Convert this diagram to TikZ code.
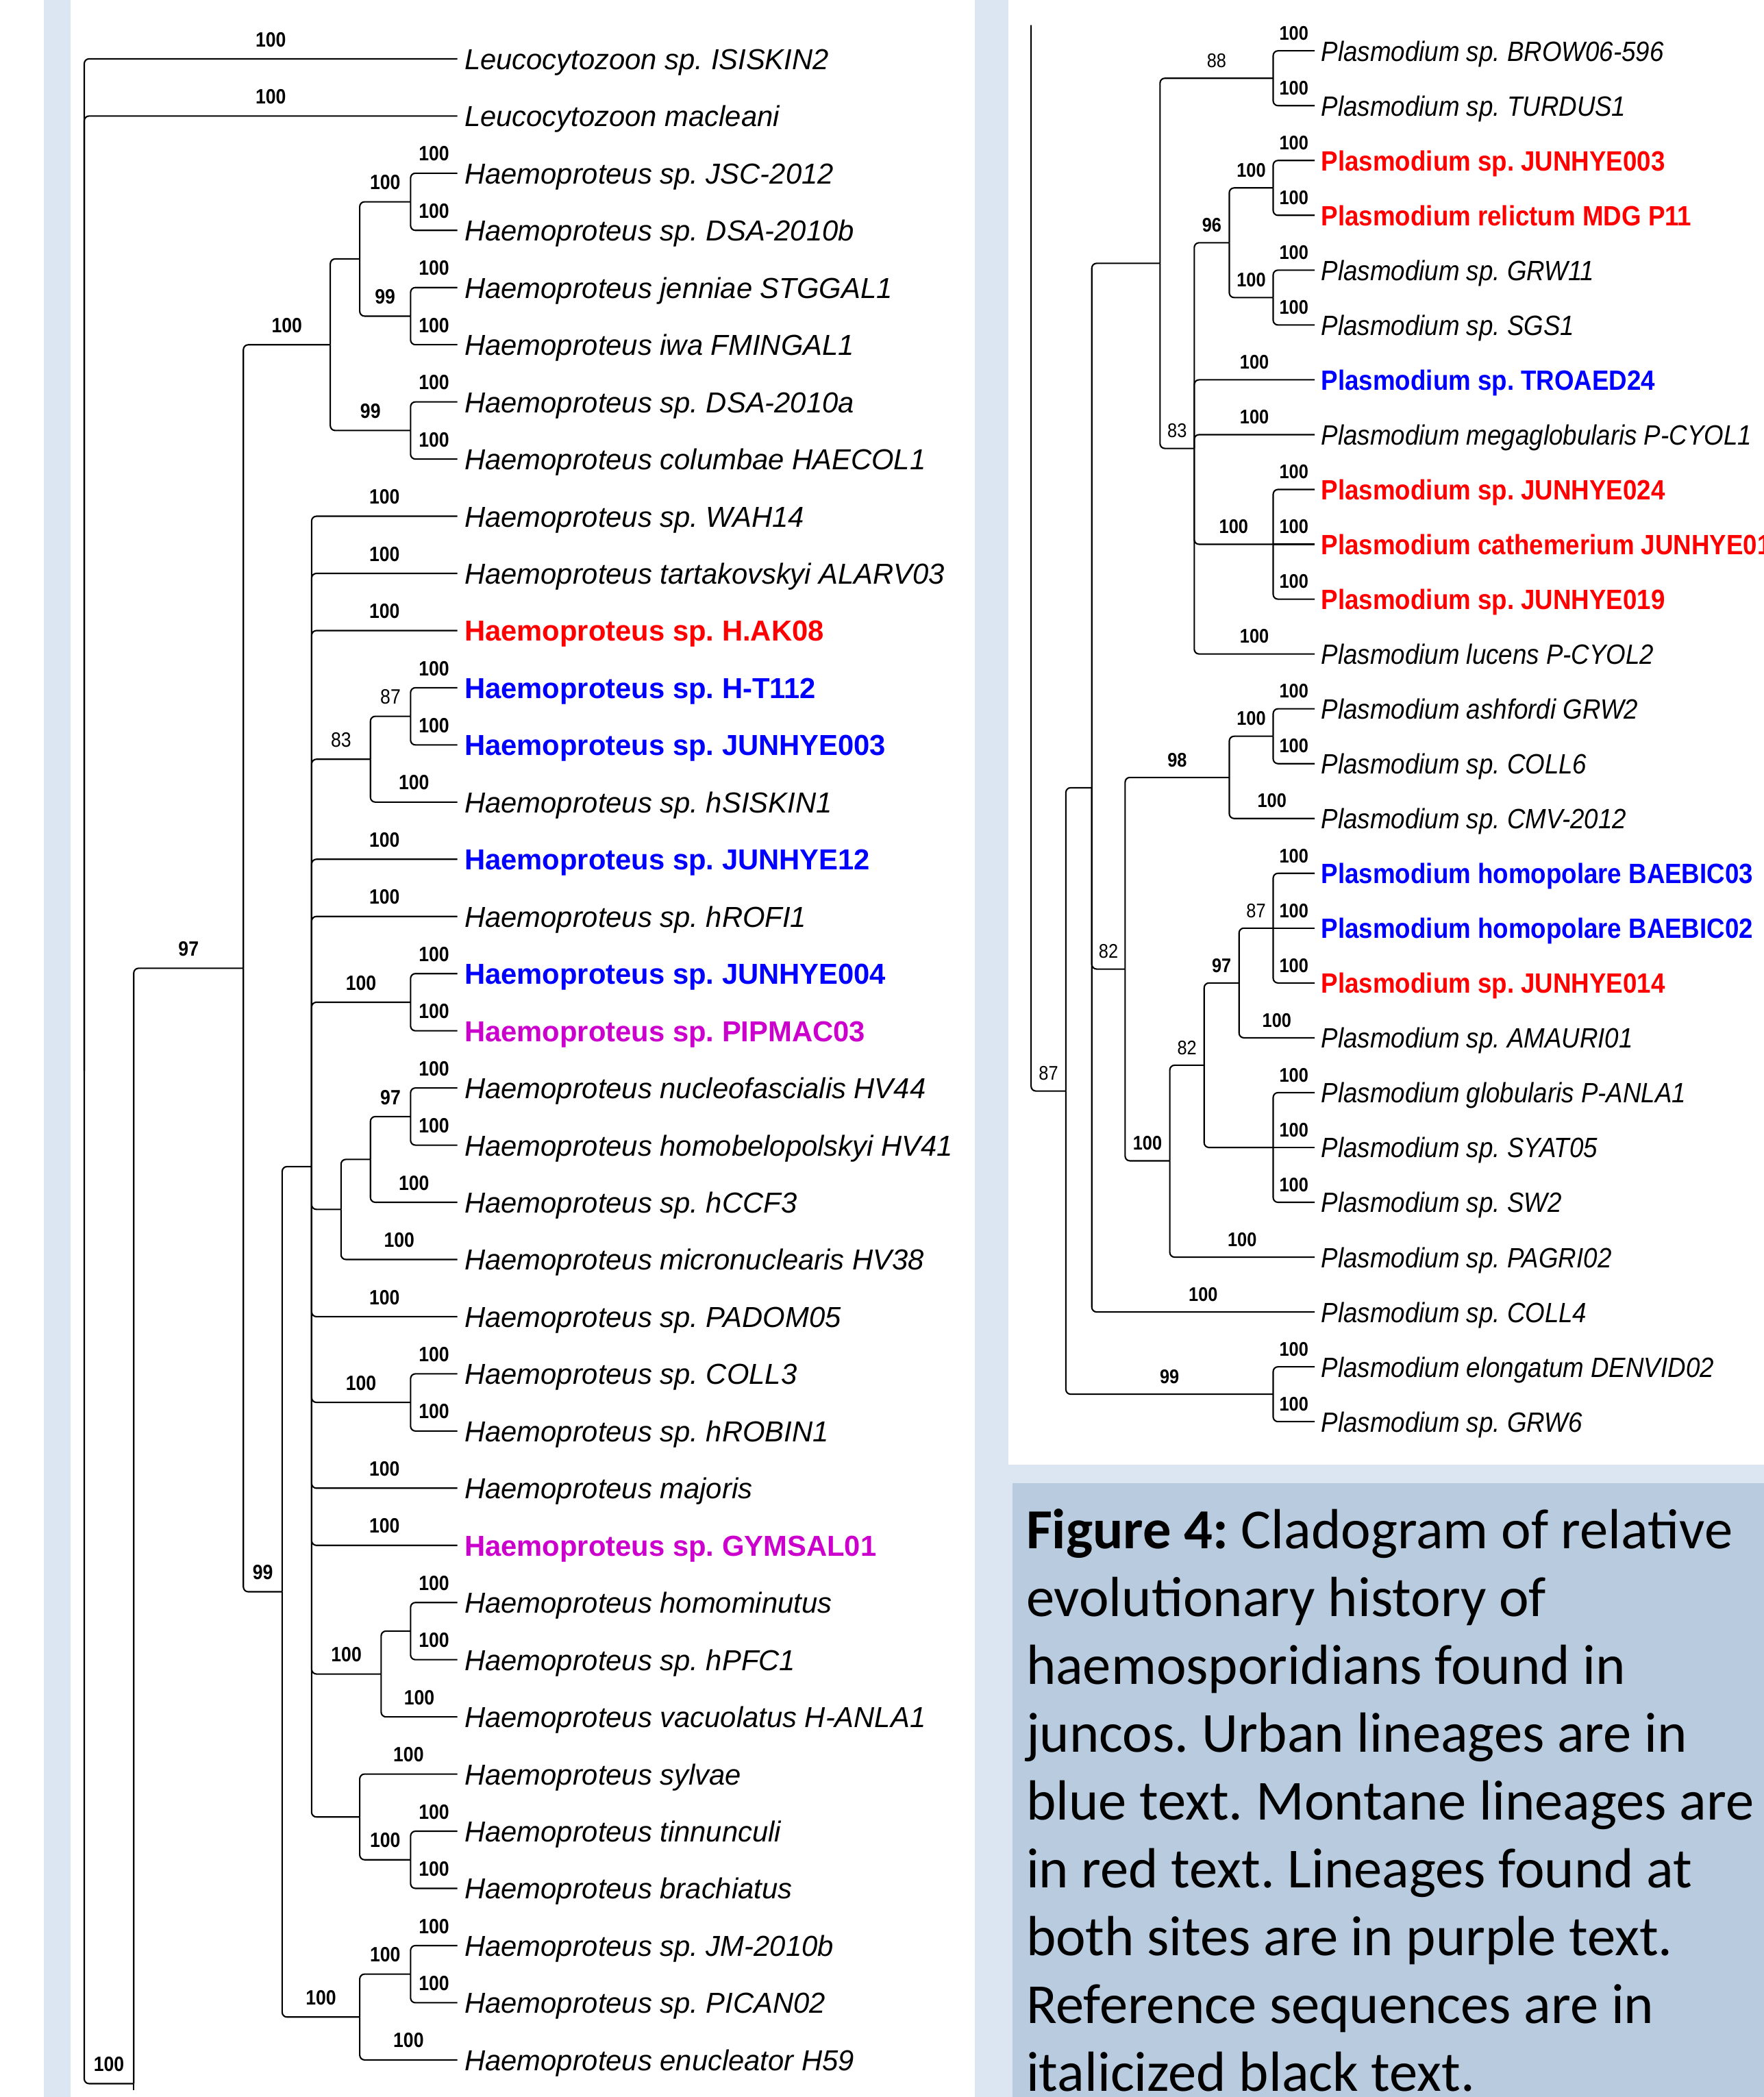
\documentclass[tikz,border=0pt]{standalone}
\usepackage{fontspec}
\usetikzlibrary{calc}
\newfontfamily\treefont[FakeStretch=0.99]{Liberation Sans}
\newfontfamily\narrowfont[FakeStretch=0.88]{Liberation Sans}
\newfontfamily\ptipfont[FakeStretch=0.9]{Liberation Sans}
\newfontfamily\capfont{Carlito}
\definecolor{PanelBlue}{RGB}{220,230,242}
\definecolor{CaptionBlue}{RGB}{185,203,223}
\definecolor{UrbanBlue}{RGB}{0,0,255}
\definecolor{MontaneRed}{RGB}{255,0,0}
\definecolor{BothPurple}{RGB}{204,0,204}
\frenchspacing

\begin{document}
\begin{tikzpicture}[x=0.019515cm,y=-0.019515cm]
        \tikzset{br/.style={line width=0.6pt,rounded corners=2pt},
          hbs/.style={font=\narrowfont\bfseries\fontsize{8.6}{9}\selectfont,inner sep=0pt,anchor=south,yshift=4.7pt},
          pbs/.style={font=\narrowfont\bfseries\fontsize{8.2}{9}\selectfont,inner sep=0pt,anchor=south,yshift=4.1pt},
          htip/.style={font=\treefont\itshape\fontsize{12}{14}\selectfont,anchor=west,inner xsep=2.8pt,inner ysep=0pt,text height=8.8pt,text depth=0pt},
          hlin/.style={htip,font=\treefont\bfseries\fontsize{12}{14}\selectfont},
          hred/.style={hlin,text=MontaneRed},
          hblue/.style={hlin,text=UrbanBlue},
          hpurp/.style={hlin,text=BothPurple},
          ptip/.style={font=\ptipfont\itshape\fontsize{11.6}{13}\selectfont,anchor=west,inner xsep=2.6pt,inner ysep=0pt,text height=8.5pt,text depth=0pt},
          plin/.style={ptip,font=\ptipfont\bfseries\fontsize{11.6}{13}\selectfont},
          pred/.style={plin,text=MontaneRed},
          pblue/.style={plin,text=UrbanBlue},
          captext/.style={font=\capfont\fontsize{23.5}{28}\selectfont,anchor=base west,inner sep=0pt}}
        \fill[white] (0,0) rectangle (1319,1568);
        \fill[PanelBlue] (33,0) rectangle (53,1568);
        \fill[PanelBlue] (729,0) rectangle (754,1568);
        \fill[PanelBlue] (754,1095) rectangle (1319,1568);
        \fill[CaptionBlue] (757,1109) rectangle (1319,1568);
        \useasboundingbox (0,0) rectangle (1319,1568);
        % Haemoproteus / Leucocytozoon tree
        \foreach \s/\t [count=\i] in {htip/{Leucocytozoon sp. ISISKIN2},htip/{Leucocytozoon macleani},htip/{Haemoproteus sp. JSC-2012},htip/{Haemoproteus sp. DSA-2010b},htip/{Haemoproteus jenniae STGGAL1},htip/{Haemoproteus iwa FMINGAL1},htip/{Haemoproteus sp. DSA-2010a},htip/{Haemoproteus columbae HAECOL1},htip/{Haemoproteus sp. WAH14},htip/{Haemoproteus tartakovskyi ALARV03},hred/{Haemoproteus sp. H.AK08},hblue/{Haemoproteus sp. H-T112},hblue/{Haemoproteus sp. JUNHYE003},htip/{Haemoproteus sp. hSISKIN1},hblue/{Haemoproteus sp. JUNHYE12},htip/{Haemoproteus sp. hROFI1},hblue/{Haemoproteus sp. JUNHYE004},hpurp/{Haemoproteus sp. PIPMAC03},htip/{Haemoproteus nucleofascialis HV44},htip/{Haemoproteus homobelopolskyi HV41},htip/{Haemoproteus sp. hCCF3},htip/{Haemoproteus micronuclearis HV38},htip/{Haemoproteus sp. PADOM05},htip/{Haemoproteus sp. COLL3},htip/{Haemoproteus sp. hROBIN1},htip/{Haemoproteus majoris},hpurp/{Haemoproteus sp. GYMSAL01},htip/{Haemoproteus homominutus},htip/{Haemoproteus sp. hPFC1},htip/{Haemoproteus vacuolatus H-ANLA1},htip/{Haemoproteus sylvae},htip/{Haemoproteus tinnunculi},htip/{Haemoproteus brachiatus},htip/{Haemoproteus sp. JM-2010b},htip/{Haemoproteus sp. PICAN02},htip/{Haemoproteus enucleator H59}}
          {\node[\s] (h\i) at (342,{44+42.75*(\i-1)}) {\t};}
        \coordinate (hr) at (63,801);
        \coordinate (ha) at (100,1558);
        \coordinate (hcut) at (100,1563);
        \coordinate (hb) at (182,724);
        \coordinate (hc) at (247,257.8);
        \coordinate (hc1) at (269,193.6);
        \coordinate (hjd) at (307,150.9);
        \coordinate (hji) at (307,236.4);
        \coordinate (hdc) at (307,321.9);
        \coordinate (hd) at (211,1190.2);
        \coordinate (he) at (233,872.3);
        \coordinate (hg) at (277,567.7);
        \coordinate (hht) at (307,535.6);
        \coordinate (hjp) at (307,749.4);
        \coordinate (hi) at (255,904.3);
        \coordinate (hi1) at (277,866.9);
        \coordinate (hnh) at (307,834.9);
        \coordinate (hcr) at (307,1048.6);
        \coordinate (hk) at (285,1251.7);
        \coordinate (hk1) at (307,1219.6);
        \coordinate (hl) at (269,1358.6);
        \coordinate (htb) at (307,1390.6);
        \coordinate (hf) at (269,1508.2);
        \coordinate (hf1) at (307,1476.1);
        \draw[br] (ha) -- (hcut);
        \foreach \p/\c/\l in {hr/h1/100,hr/h2/100,hr/ha/100,ha/hb/97,hb/hc/100,hb/hd/99,hc/hc1/{},hc/hdc/99,hc1/hjd/100,hc1/hji/99,hjd/h3/100,hjd/h4/100,hji/h5/100,hji/h6/100,hdc/h7/100,hdc/h8/100,hd/he/{},hd/hf/100,he/h9/100,he/h10/100,he/h11/100,he/hg/{\mdseries 83},he/h15/100,he/h16/100,he/hjp/100,he/hi/{},he/h23/100,he/hcr/100,he/h26/100,he/h27/100,he/hk/100,he/hl/{},hg/hht/{\mdseries 87},hg/h14/100,hht/h12/100,hht/h13/100,hjp/h17/100,hjp/h18/100,hi/hi1/{},hi/h22/100,hi1/hnh/97,hi1/h21/100,hnh/h19/100,hnh/h20/100,hcr/h24/100,hcr/h25/100,hk/hk1/{},hk/h30/100,hk1/h28/100,hk1/h29/100,hl/h31/100,hl/htb/100,htb/h32/100,htb/h33/100,hf/hf1/100,hf/h36/100,hf1/h34/100,hf1/h35/100}
          {\draw[br] (\p) |- node[hbs,pos=0.75] {\l} (\c);}
        % Plasmodium tree
        \foreach \s/\t [count=\i] in {ptip/{Plasmodium sp. BROW06-596},ptip/{Plasmodium sp. TURDUS1},pred/{Plasmodium sp. JUNHYE003},pred/{Plasmodium relictum MDG P11},ptip/{Plasmodium sp. GRW11},ptip/{Plasmodium sp. SGS1},pblue/{Plasmodium sp. TROAED24},ptip/{Plasmodium megaglobularis P-CYOL1},pred/{Plasmodium sp. JUNHYE024},pred/{Plasmodium cathemerium JUNHYE01},pred/{Plasmodium sp. JUNHYE019},ptip/{Plasmodium lucens P-CYOL2},ptip/{Plasmodium ashfordi GRW2},ptip/{Plasmodium sp. COLL6},ptip/{Plasmodium sp. CMV-2012},pblue/{Plasmodium homopolare BAEBIC03},pblue/{Plasmodium homopolare BAEBIC02},pred/{Plasmodium sp. JUNHYE014},ptip/{Plasmodium sp. AMAURI01},ptip/{Plasmodium globularis P-ANLA1},ptip/{Plasmodium sp. SYAT05},ptip/{Plasmodium sp. SW2},ptip/{Plasmodium sp. PAGRI02},ptip/{Plasmodium sp. COLL4},ptip/{Plasmodium elongatum DENVID02},ptip/{Plasmodium sp. GRW6}}
          {\node[\s] (p\i) at (983,{38+41*(\i-1)}) {\t};}
        \coordinate (pr) at (771,18.8);
        \coordinate (p87) at (797,815.8);
        \coordinate (pq) at (816.4,589);
        \coordinate (pt) at (867.4,196.9);
        \coordinate (pt1) at (952,58.5);
        \coordinate (pt2) at (893,335.3);
        \coordinate (pv) at (919.2,181.5);
        \coordinate (pv1) at (952,140.5);
        \coordinate (pv2) at (952,222.5);
        \coordinate (pw) at (952,407);
        \coordinate (ps) at (841.3,724.6);
        \coordinate (ps1) at (919.2,581.3);
        \coordinate (ps1a) at (952,550.5);
        \coordinate (ps2) at (874.7,868);
        \coordinate (ps2a) at (900.4,796.5);
        \coordinate (px) at (926.5,735);
        \coordinate (px1) at (952,694);
        \coordinate (py) at (952,858);
        \coordinate (pu) at (952,1042.5);
        \foreach \p/\c/\l in {pr/p87/{\mdseries 87},p87/pq/{},p87/pu/99,pq/pt/{},pq/ps/{\mdseries 82},pq/p24/100,pt/pt1/{\mdseries 88},pt/pt2/{\mdseries 83},pt1/p1/100,pt1/p2/100,pt2/pv/96,pt2/p7/100,pt2/p8/100,pt2/pw/100,pt2/p12/100,pv/pv1/100,pv/pv2/100,pv1/p3/100,pv1/p4/100,pv2/p5/100,pv2/p6/100,pw/p9/100,pw/p11/100,ps/ps1/98,ps/ps2/100,ps1/ps1a/100,ps1/p15/100,ps1a/p13/100,ps1a/p14/100,ps2/ps2a/{\mdseries 82},ps2/p23/100,ps2a/px/97,ps2a/py/{},px/px1/{\mdseries 87},px/p19/100,px1/p16/100,px1/p18/100,py/p20/100,py/p22/100,pu/p25/100,pu/p26/100}
          {\draw[br] (\p) |- node[pbs,pos=0.75] {\l} (\c);}
        \foreach \p/\c in {pw/p10,px1/p17,py/p21}
          {\draw[br] (\p) -- node[pbs] {100} (\c);}
        % caption
        \foreach \ln [count=\i] in {{{\bfseries Figure 4:} Cladogram of relative},evolutionary history of,haemosporidians found in,juncos. Urban lineages are in,blue text. Montane lineages are,in red text. Lineages found at,both sites are in purple text.,Reference sequences are in,italicized black text.}
          {\node[captext] (cap\i) at (767,{1158+50.7*(\i-1)}) {\ln};}
      \end{tikzpicture}
\end{document}
